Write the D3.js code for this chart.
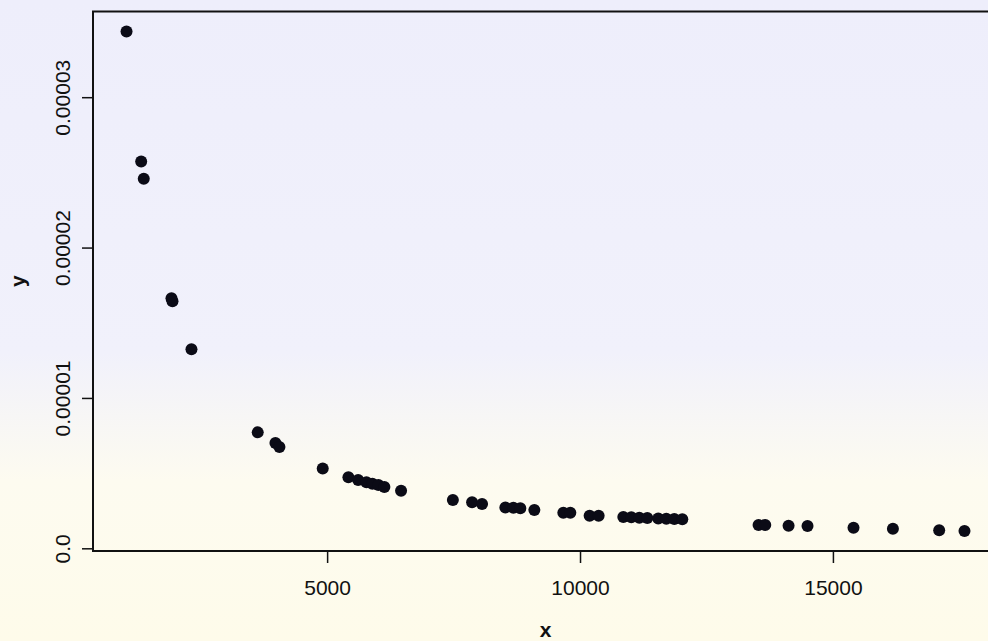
<!DOCTYPE html>
<html lang="en">
  <head>
    <meta charset="UTF-8" />
    <title>x vs y</title>
    <style>
      body { margin: 0; background: #fff; }
      text { font-family: "Liberation Sans", Arial, sans-serif; fill: #111; }
    </style>
  </head>
  <body>
    <svg id="svg" width="988" height="641"></svg>

    <script src="https://cdn.jsdelivr.net/npm/d3@7"></script>
    <script>
      const WIDTH = 988;
      const HEIGHT = 641;
      // plot box (right edge falls just outside the picture, as in the scan)
      const LEFT = 93;
      const RIGHT = 998;
      const TOP = 11.5;
      const BOTTOM = 551;

      const xValues = [
        1034, 1324, 1375, 1923, 1943, 2318, 3628, 3978, 4057, 4913,
        5421, 5613, 5777, 5895, 6014, 6132, 6462, 7486, 7866, 8063,
        8524, 8682, 8820, 9097, 9670, 9808, 10190, 10368, 10856, 11014,
        11172, 11330, 11547, 11706, 11864, 12022, 13530, 13662, 14123, 14498,
        15407, 16186, 17101, 17601
      ];
      const yValues = [
        3.437e-5, 2.573e-5, 2.458e-5, 1.663e-5, 1.643e-5, 1.324e-5, 7.71e-6, 7.0e-6, 6.73e-6, 5.31e-6,
        4.72e-6, 4.54e-6, 4.4e-6, 4.3e-6, 4.21e-6, 4.07e-6, 3.83e-6, 3.21e-6, 3.06e-6, 2.94e-6,
        2.72e-6, 2.7e-6, 2.66e-6, 2.54e-6, 2.37e-6, 2.37e-6, 2.17e-6, 2.17e-6, 2.08e-6, 2.06e-6,
        2.04e-6, 2.01e-6, 1.99e-6, 1.97e-6, 1.95e-6, 1.93e-6, 1.55e-6, 1.55e-6, 1.5e-6, 1.48e-6,
        1.37e-6, 1.3e-6, 1.2e-6, 1.15e-6
      ];
      const xTicks = [5000, 10000, 15000];
      const yTicks = [0, 0.00001, 0.00002, 0.00003];
      const yTickLabels = ["0.0", "0.00001", "0.00002", "0.00003"];

      const data = xValues.map((x, i) => ({ x: x, y: yValues[i] }));

      // R style: data range padded by 4% on each side
      function padExtent(values) {
        const [lo, hi] = d3.extent(values);
        const pad = (hi - lo) * 0.04;
        return [lo - pad, hi + pad];
      }

      const xScale = d3.scaleLinear().domain(padExtent(xValues)).range([LEFT, RIGHT]);
      const yScale = d3.scaleLinear().domain(padExtent(yValues)).range([BOTTOM, TOP]);

      const svg = d3.select("#svg");

      // faint scan watermark tones
      const defs = svg.append("defs");
      const grad = defs
        .append("linearGradient")
        .attr("id", "bg")
        .attr("x1", 0)
        .attr("y1", 0)
        .attr("x2", 0)
        .attr("y2", 1);
      grad.append("stop").attr("offset", "0%").attr("stop-color", "#eeeefb");
      grad.append("stop").attr("offset", "55%").attr("stop-color", "#f1f1fb");
      grad.append("stop").attr("offset", "75%").attr("stop-color", "#fdfbf0");
      grad.append("stop").attr("offset", "100%").attr("stop-color", "#fefbea");
      svg.append("rect").attr("width", WIDTH).attr("height", HEIGHT).attr("fill", "url(#bg)");

      // axes
      const bottomAxis = d3.axisBottom(xScale).tickValues(xTicks).tickSize(12).tickPadding(17).tickFormat(d3.format("d"));
      const leftAxis = d3.axisLeft(yScale).tickValues(yTicks).tickSize(11).tickFormat((d, i) => yTickLabels[i]);

      const gx = svg.append("g").attr("transform", `translate(0, ${BOTTOM})`).call(bottomAxis);
      gx.select(".domain").remove();
      gx.selectAll("line").attr("stroke", "#111").attr("stroke-width", 1.5);
      gx.selectAll("text").attr("font-size", 21).attr("font-family", null).attr("fill", "#111");

      const gy = svg.append("g").attr("transform", `translate(${LEFT}, 0)`).call(leftAxis);
      gy.select(".domain").remove();
      gy.selectAll("line").attr("stroke", "#111").attr("stroke-width", 1.5);
      gy.selectAll("text")
        .attr("font-size", 21)
        .attr("font-family", null)
        .attr("fill", "#111")
        .attr("x", null)
        .attr("dy", null)
        .attr("text-anchor", "middle")
        .attr("transform", "translate(-23, 0) rotate(-90)");

      // plot box
      svg
        .append("rect")
        .attr("x", LEFT)
        .attr("y", TOP)
        .attr("width", RIGHT - LEFT)
        .attr("height", BOTTOM - TOP)
        .attr("fill", "none")
        .attr("stroke", "#111")
        .attr("stroke-width", 2);

      // points
      svg
        .append("g")
        .selectAll("circle")
        .data(data)
        .enter()
        .append("circle")
        .attr("cx", (d) => xScale(d.x))
        .attr("cy", (d) => yScale(d.y))
        .attr("r", 6)
        .attr("fill", "#0b0b16");

      // axis titles
      svg
        .append("text")
        .attr("x", (LEFT + RIGHT) / 2)
        .attr("y", 637)
        .attr("text-anchor", "middle")
        .attr("font-size", 21)
        .attr("font-weight", "bold")
        .text("x");

      svg
        .append("text")
        .attr("transform", `translate(25, ${(TOP + BOTTOM) / 2}) rotate(-90)`)
        .attr("text-anchor", "middle")
        .attr("font-size", 21)
        .attr("font-weight", "bold")
        .text("y");
    </script>
  </body>
</html>
